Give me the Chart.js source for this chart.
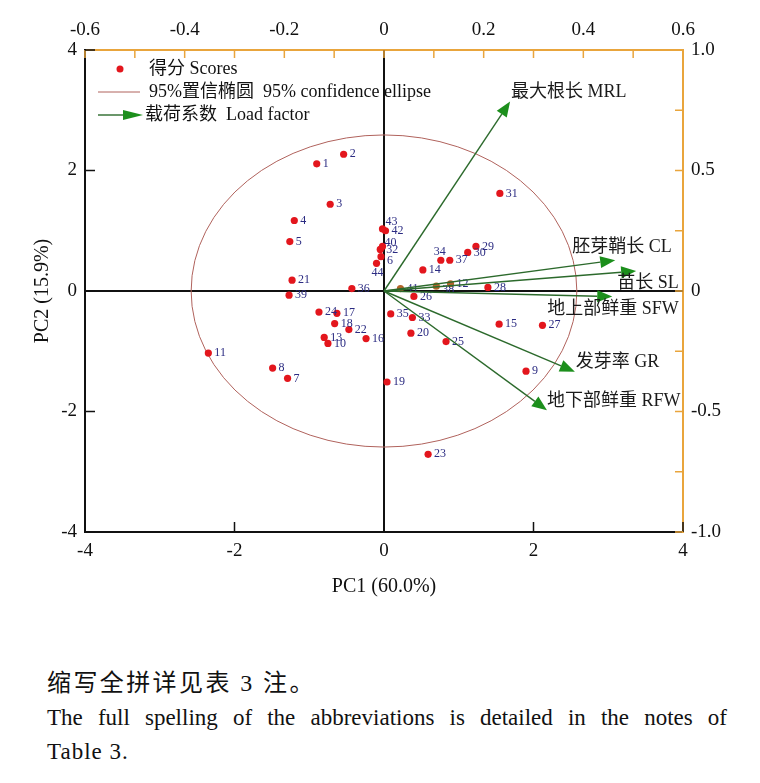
<!DOCTYPE html>
<html>
<head>
<meta charset="utf-8">
<title>PCA biplot</title>
<script src="https://cdn.jsdelivr.net/npm/chart.js@4.4.1/dist/chart.umd.min.js"></script>
<style>
  html, body { margin: 0; padding: 0; background: #fff; }
  body { width: 760px; height: 783px; position: relative; overflow: hidden; }
  #wrap { position: absolute; left: 0; top: 0; width: 760px; height: 610px; }
  .note { position: absolute; left: 47px; font-family: "Liberation Serif", "Noto Sans CJK SC", serif; color: #111; white-space: nowrap; }
  #cn { top: 665px; font-size: 24px; line-height: 36px; letter-spacing: 2.4px; }
  #en1 { top: 700px; width: 680px; font-size: 23px; line-height: 36px; text-align: justify; text-align-last: justify; }
  #en2 { top: 734px; font-size: 23px; line-height: 36px; letter-spacing: 1px; }
</style>
</head>
<body>
<div id="wrap"><canvas id="biplot" width="760" height="610"></canvas></div>
<div class="note" id="cn">缩写全拼详见表 3 注。</div>
<div class="note" id="en1">The full spelling of the abbreviations is detailed in the notes of</div>
<div class="note" id="en2">Table 3.</div>

<script>
// 样品得分 (PC1, PC2)
const sampleIds = [1, 2, 3, 4, 5, 6, 7, 8, 9, 10, 11, 12, 13, 14, 15, 16, 17, 18, 19, 20, 21, 22,
  23, 24, 25, 26, 27, 28, 29, 30, 31, 32, 33, 34, 35, 36, 37, 38, 39, 40, 41, 42, 43, 44];
const pc1Scores = [-0.90, -0.54, -0.72, -1.20, -1.26, -0.04, -1.29, -1.49, 1.90, -0.75, -2.35, 0.89,
  -0.80, 0.52, 1.54, -0.24, -0.63, -0.66, 0.04, 0.36, -1.23, -0.47, 0.59, -0.87, 0.83, 0.40,
  2.12, 1.39, 1.23, 1.12, 1.55, -0.05, 0.38, 0.76, 0.09, -0.43, 0.88, 0.70, -1.27, -0.02,
  0.22, 0.02, -0.02, -0.10];
const pc2Scores = [2.11, 2.27, 1.44, 1.17, 0.82, 0.57, -1.45, -1.28, -1.33, -0.87, -1.03, 0.12,
  -0.77, 0.35, -0.55, -0.79, -0.37, -0.54, -1.51, -0.70, 0.18, -0.64, -2.71, -0.35, -0.84, -0.09,
  -0.57, 0.06, 0.74, 0.64, 1.62, 0.69, -0.44, 0.51, -0.38, 0.04, 0.51, 0.08, -0.07, 0.74,
  0.04, 1.00, 1.03, 0.46];

// 载荷系数 (上轴 / 右轴)
const traitNames = ['最大根长 MRL', '胚芽鞘长 CL', '苗长 SL', '地上部鲜重 SFW', '发芽率 GR', '地下部鲜重 RFW'];
const loadPC1 = [0.253, 0.464, 0.506, 0.458, 0.383, 0.327];
const loadPC2 = [0.786, 0.128, 0.083, -0.023, -0.335, -0.495];

// 95% 置信椭圆 (得分坐标)
const ellipseCenter = [0, 0];
const ellipseRadii = [2.58, 2.59];

// 刻度
const scoreTicks = [-4, -2, 0, 2, 4];
const loadXTicks = [-0.6, -0.4, -0.2, 0, 0.2, 0.4, 0.6];
const loadYTicks = [-1.0, -0.5, 0, 0.5, 1.0];

const FONT = '"Liberation Serif", "Noto Sans CJK SC", serif';
const BLACK = '#111';
const ORANGE = '#e9a53c';
const RED = '#e3161d';
const BROWN = '#b3642a';
const NAVY = '#2b2b82';
const GREEN_LINE = '#2c6a2c';
const GREEN_HEAD = '#1c8f1c';
const ELLIPSE = '#b0625c';

// 标签微调 (像素)
const labelNudge = { 34: [-13, -8], 38: [0, 4], 43: [-3, -7], 40: [-4, -4], 6: [0, 4], 44: [-11, 10] };
const underArrow = [12, 38, 41];
const traitLabelOffset = [[1, -9, 'left'], [-43, -13, 'left'], [-19, 12, 'left'],
  [-65, 13, 'left'], [1, -9, 'left'], [0, -9, 'left']];

Chart.defaults.font.family = FONT;
Chart.defaults.color = BLACK;

function fmt1(v) {
  return Math.abs(v) < 1e-9 ? '0' : v.toFixed(1);
}

function drawArrow(ctx, x0, y0, x1, y1, headLen, headHalf) {
  const ang = Math.atan2(y1 - y0, x1 - x0);
  const bx = x1 - headLen * Math.cos(ang), by = y1 - headLen * Math.sin(ang);
  ctx.strokeStyle = GREEN_LINE;
  ctx.lineWidth = 1.4;
  ctx.beginPath();
  ctx.moveTo(x0, y0);
  ctx.lineTo(bx, by);
  ctx.stroke();
  ctx.fillStyle = GREEN_HEAD;
  ctx.beginPath();
  ctx.moveTo(x1, y1);
  ctx.lineTo(bx + headHalf * Math.sin(ang), by - headHalf * Math.cos(ang));
  ctx.lineTo(bx - headHalf * Math.sin(ang), by + headHalf * Math.cos(ang));
  ctx.closePath();
  ctx.fill();
}

const backdrop = {
  id: 'backdrop',
  beforeDatasetsDraw(chart) {
    const { ctx, chartArea: a, scales: { x, y } } = chart;
    ctx.save();
    // 零线
    ctx.strokeStyle = BLACK;
    ctx.lineWidth = 2;
    ctx.beginPath();
    ctx.moveTo(x.getPixelForValue(0), a.top);
    ctx.lineTo(x.getPixelForValue(0), a.bottom);
    ctx.moveTo(a.left, y.getPixelForValue(0));
    ctx.lineTo(a.right, y.getPixelForValue(0));
    ctx.stroke();
    // 置信椭圆
    const cx = x.getPixelForValue(ellipseCenter[0]);
    const cy = y.getPixelForValue(ellipseCenter[1]);
    const rx = Math.abs(x.getPixelForValue(ellipseCenter[0] + ellipseRadii[0]) - cx);
    const ry = Math.abs(y.getPixelForValue(ellipseCenter[1] + ellipseRadii[1]) - cy);
    ctx.strokeStyle = ELLIPSE;
    ctx.lineWidth = 1;
    ctx.beginPath();
    ctx.ellipse(cx, cy, rx, ry, 0, 0, Math.PI * 2);
    ctx.stroke();
    ctx.restore();
  }
};

const overlay = {
  id: 'overlay',
  afterDatasetsDraw(chart) {
    const { ctx, scales: { x2, y2 } } = chart;
    ctx.save();
    // 样品编号
    ctx.font = '12px ' + FONT;
    ctx.fillStyle = NAVY;
    ctx.textBaseline = 'middle';
    ctx.textAlign = 'left';
    chart.getDatasetMeta(0).data.forEach((pt, i) => {
      const id = sampleIds[i];
      const n = labelNudge[id] || [0, 0];
      ctx.fillText(String(id), pt.x + 6 + n[0], pt.y + n[1]);
    });
    // 载荷箭头
    const ox = x2.getPixelForValue(0), oy = y2.getPixelForValue(0);
    ctx.font = '18px ' + FONT;
    traitNames.forEach((name, i) => {
      const tx = x2.getPixelForValue(loadPC1[i]);
      const ty = y2.getPixelForValue(loadPC2[i]);
      drawArrow(ctx, ox, oy, tx, ty, 15, 6);
      const o = traitLabelOffset[i];
      ctx.fillStyle = '#1a1a1a';
      ctx.textAlign = o[2];
      ctx.fillText(name, tx + o[0], ty + o[1]);
    });
    ctx.restore();
  },
  afterDraw(chart) {
    const { ctx, chartArea: a } = chart;
    ctx.save();
    // 内向刻度
    const tickDefs = [['x', 'bottom', 10], ['x2', 'top', 8], ['y', 'left', 10], ['y2', 'right', 8]];
    tickDefs.forEach(([id, side, len]) => {
      const s = chart.scales[id];
      ctx.strokeStyle = s.options.border.color;
      ctx.lineWidth = 1.5;
      ctx.beginPath();
      s.ticks.forEach(t => {
        const p = s.getPixelForValue(t.value);
        if (side === 'bottom') { ctx.moveTo(p, a.bottom); ctx.lineTo(p, a.bottom - len); }
        if (side === 'top') { ctx.moveTo(p, a.top); ctx.lineTo(p, a.top + len); }
        if (side === 'left') { ctx.moveTo(a.left, p); ctx.lineTo(a.left + len, p); }
        if (side === 'right') { ctx.moveTo(a.right, p); ctx.lineTo(a.right - len, p); }
      });
      ctx.stroke();
    });
    // 图例
    const lx = a.left + 13, tx = a.left + 64;
    ctx.font = '18px ' + FONT;
    ctx.textBaseline = 'middle';
    ctx.textAlign = 'left';
    ctx.fillStyle = RED;
    ctx.beginPath();
    ctx.arc(a.left + 35, a.top + 19, 3.5, 0, Math.PI * 2);
    ctx.fill();
    ctx.fillStyle = BLACK;
    ctx.fillText('得分 Scores', tx, a.top + 19);
    ctx.strokeStyle = ELLIPSE;
    ctx.lineWidth = 1;
    ctx.beginPath();
    ctx.moveTo(lx, a.top + 42);
    ctx.lineTo(lx + 42, a.top + 42);
    ctx.stroke();
    ctx.fillStyle = BLACK;
    ctx.fillText('95%置信椭圆  95% confidence ellipse', tx, a.top + 42);
    drawArrow(ctx, lx, a.top + 65, lx + 45, a.top + 65, 20, 5);
    ctx.fillStyle = BLACK;
    ctx.fillText('载荷系数  Load factor', tx - 4, a.top + 65);
    ctx.restore();
  }
};

const points = pc1Scores.map((v, i) => ({ x: v, y: pc2Scores[i] }));

new Chart(document.getElementById('biplot'), {
  type: 'scatter',
  data: {
    datasets: [{
      label: '得分 Scores',
      data: points,
      xAxisID: 'x',
      yAxisID: 'y',
      pointRadius: 3.6,
      pointBorderWidth: 0,
      pointBackgroundColor: ctx => underArrow.includes(sampleIds[ctx.dataIndex]) ? BROWN : RED
    }]
  },
  options: {
    responsive: false,
    animation: false,
    layout: { padding: 0 },
    plugins: { legend: { display: false }, tooltip: { enabled: false } },
    scales: {
      x: {
        type: 'linear', position: 'bottom', min: scoreTicks[0], max: scoreTicks[scoreTicks.length - 1],
        afterBuildTicks: s => { s.ticks = scoreTicks.map(v => ({ value: v })); },
        ticks: { font: { size: 19 }, padding: 8, maxRotation: 0, autoSkip: false, callback: v => String(v) },
        grid: { display: false, drawTicks: false },
        border: { display: true, color: BLACK, width: 2 },
        title: { display: true, text: 'PC1 (60.0%)', font: { size: 20 }, padding: { top: 0, bottom: 11 } },
        afterFit: s => { s.height = 78; }
      },
      x2: {
        type: 'linear', position: 'top', min: loadXTicks[0], max: loadXTicks[loadXTicks.length - 1],
        ticks: {
          stepSize: 0.1, font: { size: 19 }, padding: 9, maxRotation: 0, autoSkip: false,
          callback: v => (Math.round(v * 10) % 2 === 0 ? fmt1(v) : '')
        },
        grid: { display: false, drawTicks: false },
        border: { display: true, color: ORANGE, width: 2 },
        afterFit: s => { s.height = 50; }
      },
      y: {
        type: 'linear', position: 'left', min: scoreTicks[0], max: scoreTicks[scoreTicks.length - 1],
        afterBuildTicks: s => { s.ticks = scoreTicks.map(v => ({ value: v })); },
        ticks: { font: { size: 19 }, padding: 8, autoSkip: false, callback: v => String(v) },
        grid: { display: false, drawTicks: false },
        border: { display: true, color: BLACK, width: 2 },
        title: { display: true, text: 'PC2 (15.9%)', font: { size: 20 }, padding: { top: 31, bottom: 0 } },
        afterFit: s => { s.width = 85; }
      },
      y2: {
        type: 'linear', position: 'right', min: loadYTicks[0], max: loadYTicks[loadYTicks.length - 1],
        ticks: {
          stepSize: 0.25, font: { size: 19 }, padding: 8, autoSkip: false,
          callback: v => (Math.round(v * 4) % 2 === 0 ? fmt1(v) : '')
        },
        grid: { display: false, drawTicks: false },
        border: { display: true, color: ORANGE, width: 2 },
        afterFit: s => { s.width = 77; }
      }
    }
  },
  plugins: [backdrop, overlay]
});
</script>
</body>
</html>
